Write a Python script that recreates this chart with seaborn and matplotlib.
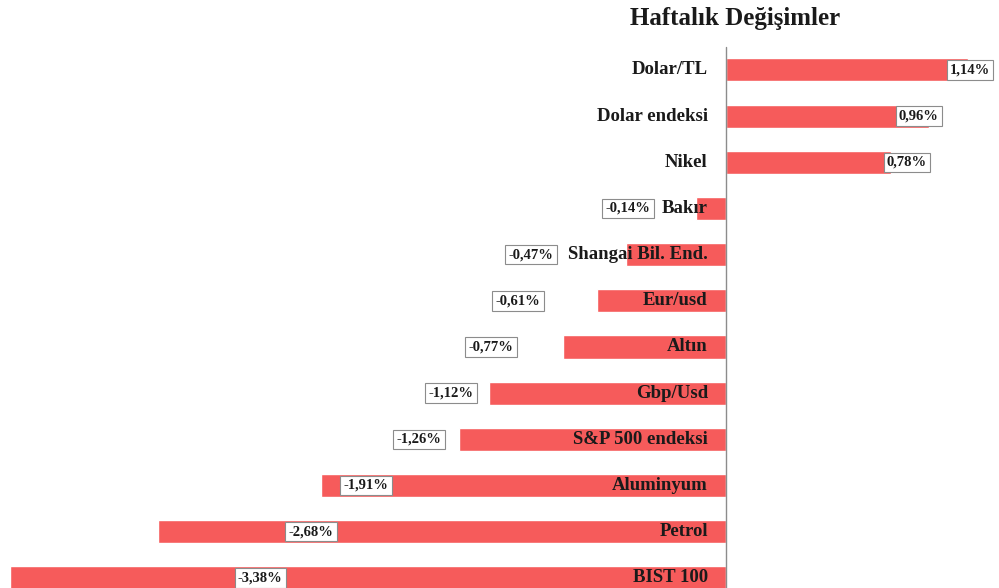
import seaborn as sns
import pandas as pd
import matplotlib.pyplot as plt

categories = ["Dolar/TL", "Dolar endeksi", "Nikel", "Bakır", "Shangai Bil. End.",
              "Eur/usd", "Altın", "Gbp/Usd", "S&P 500 endeksi", "Aluminyum",
              "Petrol", "BIST 100"]
changes = [1.14, 0.96, 0.78, -0.14, -0.47, -0.61, -0.77, -1.12, -1.26, -1.91, -2.68, -3.38]

# where each value box sits (x, in % units), copied from the original layout
label_x = [1.151, 0.910, 0.854, -0.462, -0.920, -0.981, -1.108, -1.297, -1.448,
           -1.698, -1.958, -2.198]

BAR = "#F65B5B"
FONT = ["Liberation Serif", "DejaVu Serif"]


def draw(df: pd.DataFrame):
    sns.set_theme(style="white")
    plt.rcParams["font.family"] = FONT
    fig = plt.figure(figsize=(9.99, 5.88), dpi=100)
    ax = fig.add_axes([0, 0, 1, 1])
    sns.barplot(data=df, x="change", y="name", orient="h", color=BAR,
                saturation=1, width=0.5, ax=ax)
    ax.set_xlim(-3.425, 1.288)
    ax.set_ylim(11.22, -1.515)
    ax.axis("off")
    ax.plot([0, 0], [-0.5, 11.22], color="#8c8c8c", lw=1.0, zorder=1)

    for i, row in df.iterrows():
        ax.annotate(row["name"], xy=(0, i), xytext=(-13, 0), textcoords="offset points",
                    ha="right", va="center", fontsize=13.5, fontweight="bold",
                    color="#1a1a1a", zorder=4)
        txt = f"{row['change']:.2f}".replace(".", ",") + "%"
        ax.text(label_x[i], i, txt, ha="center", va="center", fontsize=10.5,
                fontweight="bold", color="#1a1a1a", zorder=5,
                bbox=dict(boxstyle="square,pad=0.22", fc="white", ec="#8c8c8c", lw=0.8))

    fig.text(735 / 999, 1 - 19 / 588, "Haftalık Değişimler", ha="center", va="center",
             fontsize=18, fontweight="bold", color="#1a1a1a")
    fig.savefig("out.png", dpi=100)


def main():
    df = pd.DataFrame({"name": categories, "change": changes})
    draw(df)


if __name__ == "__main__":
    main()
